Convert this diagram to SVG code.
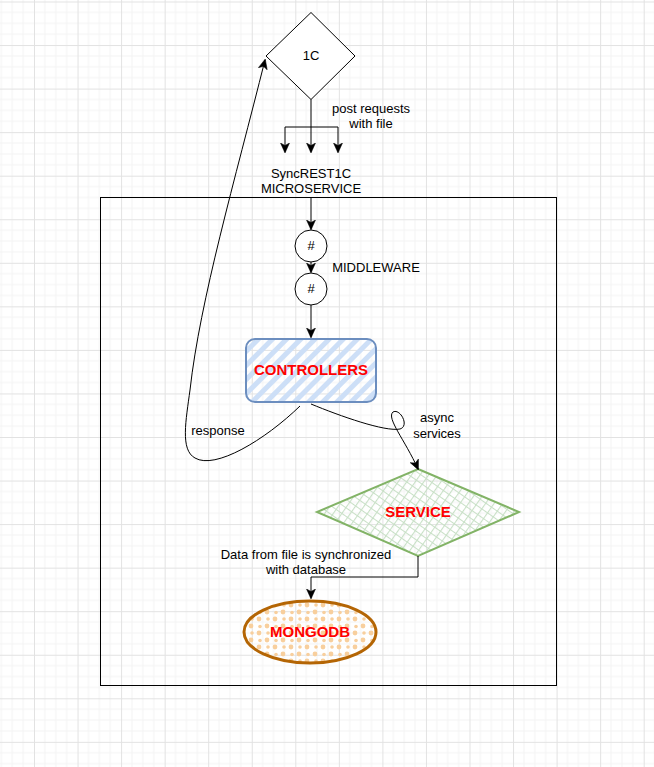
<svg xmlns="http://www.w3.org/2000/svg" width="654" height="767" viewBox="0 0 654 767">
<style>
.lbl{font-family:"Liberation Sans",Arial,sans-serif;font-size:13px;fill:#000;text-anchor:middle}
.big{font-family:"Liberation Sans",Arial,sans-serif;font-size:15px;font-weight:bold;fill:#ff0000;text-anchor:middle}
.edge{fill:none;stroke:#000;stroke-width:1}
</style>
<defs>
<pattern id="grid" patternUnits="userSpaceOnUse" x="34" y="1.5" width="43.55" height="43.55">
<path d="M10.89 0V43.55M21.78 0V43.55M32.66 0V43.55M0 10.89H43.55M0 21.78H43.55M0 32.66H43.55" stroke="#f4f4f4" stroke-width="1" fill="none"/>
<path d="M0.5 0V43.55M0 0.5H43.55" stroke="#e2e2e2" stroke-width="1" fill="none"/>
</pattern>
<pattern id="hatchBlue" patternUnits="userSpaceOnUse" width="10" height="10" patternTransform="rotate(45)">
<rect x="0" y="0" width="5" height="10" fill="#cddff7"/>
</pattern>
<pattern id="crossGreen" patternUnits="userSpaceOnUse" width="7" height="7" patternTransform="rotate(35)">
<path d="M0 0.5H7M0.5 0V7" stroke="#c8e0c6" stroke-width="1.2" fill="none"/>
</pattern>
<pattern id="dots" patternUnits="userSpaceOnUse" width="16" height="14">
<circle cx="3" cy="3" r="2.4" fill="#f8cf9d"/>
<circle cx="11" cy="10" r="2.4" fill="#f8cf9d"/>
<circle cx="12" cy="3" r="1.8" fill="#f8cf9d"/>
<circle cx="4" cy="10.5" r="1.8" fill="#f8cf9d"/>
</pattern>
<marker id="arr" viewBox="0 0 10 10" refX="9" refY="5" markerWidth="10" markerHeight="10" markerUnits="userSpaceOnUse" orient="auto">
<path d="M0 0.5L10 5L0 9.5L2.5 5Z" fill="#000" stroke="#000" stroke-width="0.5"/>
</marker>
</defs>
<rect x="0" y="0" width="654" height="767" fill="#ffffff"/>
<rect x="0" y="0" width="654" height="767" fill="url(#grid)"/>

<g id="microservice">
<rect x="100.5" y="197.5" width="456" height="488" fill="none" stroke="#000" stroke-width="1"/>
<text class="lbl" x="311" y="178">SyncREST1C</text>
<text class="lbl" x="311" y="193">MICROSERVICE</text>
</g>

<g id="node-1c">
<polygon points="311,12.5 355,56 311,99.5 266,56" fill="#fff" stroke="#000" stroke-width="1"/>
<text class="lbl" x="311" y="60">1C</text>
</g>

<g id="middleware1">
<circle cx="311" cy="246" r="16" fill="#fff" stroke="#000" stroke-width="1"/>
<text class="lbl" x="311" y="250">#</text>
</g>
<g id="middleware2">
<circle cx="311" cy="289" r="16" fill="#fff" stroke="#000" stroke-width="1"/>
<text class="lbl" x="311" y="293">#</text>
</g>
<g id="middleware-label">
<text class="lbl" x="376" y="272">MIDDLEWARE</text>
</g>

<g id="controllers">
<rect x="246" y="339" width="130" height="63" rx="9" fill="url(#hatchBlue)" stroke="#6c8ebf" stroke-width="2"/>
<text class="big" x="311" y="375">CONTROLLERS</text>
</g>

<g id="service">
<polygon points="418,469 519,512 418,556 317,512" fill="url(#crossGreen)" stroke="#82b366" stroke-width="2"/>
<text class="big" x="418" y="517">SERVICE</text>
</g>

<g id="mongodb">
<ellipse cx="310" cy="632" rx="66" ry="31" fill="url(#dots)" stroke="#b46504" stroke-width="3"/>
<text class="big" x="310" y="637">MONGODB</text>
</g>

<g id="connectors">
<path class="edge" d="M311 99.5V127"/>
<path class="edge" d="M285 127H338"/>
<path class="edge" d="M285 127V152" marker-end="url(#arr)"/>
<path class="edge" d="M311 127V152" marker-end="url(#arr)"/>
<path class="edge" d="M338 127V152" marker-end="url(#arr)"/>
<text class="lbl" x="371" y="113">post requests</text>
<text class="lbl" x="371" y="128">with file</text>

<path class="edge" d="M311 198V229" marker-end="url(#arr)"/>
<path class="edge" d="M311 262V272" marker-end="url(#arr)"/>
<path class="edge" d="M311 305V337" marker-end="url(#arr)"/>

<path class="edge" d="M300 406C265 440 215 470 195 458C180 450 186 420 190 390C200 300 235 180 265 60" marker-end="url(#arr)"/>
<text class="lbl" x="218" y="435">response</text>

<path class="edge" d="M311 404C340 416 385 432 400 429C410 426 400 408 393 412C386 418 405 440 418 469" marker-end="url(#arr)"/>
<text class="lbl" x="437" y="422">async</text>
<text class="lbl" x="437" y="438">services</text>

<path class="edge" d="M418 556V577H311V598" marker-end="url(#arr)"/>
<text class="lbl" x="306" y="559">Data from file is synchronized</text>
<text class="lbl" x="306" y="574">with database</text>
</g>
</svg>
